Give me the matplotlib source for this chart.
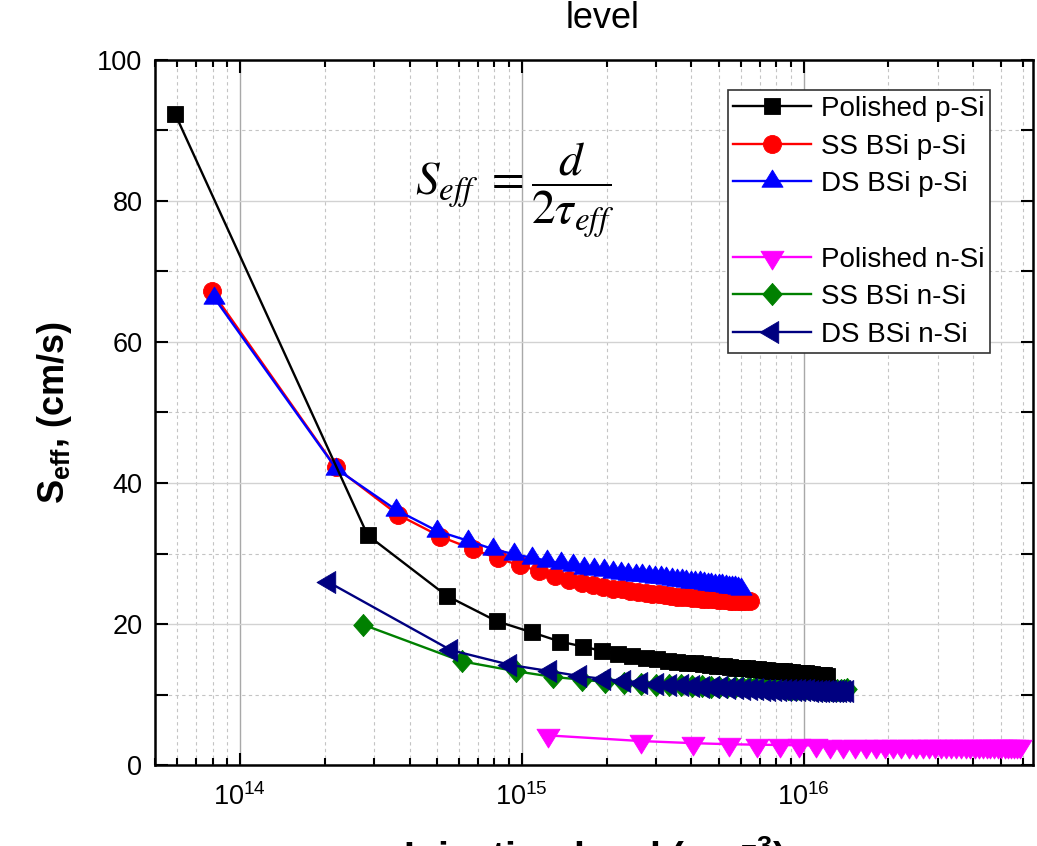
import numpy as np
import matplotlib
matplotlib.use('Agg')
import matplotlib.pyplot as plt
from matplotlib.path import Path
from matplotlib.lines import Line2D
from matplotlib.ticker import FixedLocator, FuncFormatter, MultipleLocator, LogLocator, NullFormatter

plt.rcParams['font.family'] = ['Liberation Sans', 'DejaVu Sans']

# ---------------- data ----------------
polished_p_x = [5.9e13, 2.84e14, 5.42e14, 8.15e14, 1.09e15, 1.37e15, 1.65e15, 1.92e15, 2.20e15, 2.47e15,
                2.75e15, 3.02e15, 3.30e15, 3.57e15, 3.85e15, 4.12e15, 4.40e15, 4.67e15, 4.95e15, 5.22e15,
                5.50e15, 5.77e15, 6.05e15, 6.32e15, 6.60e15, 6.87e15, 7.15e15, 7.42e15, 7.70e15, 7.97e15,
                8.25e15, 8.52e15, 8.80e15, 9.07e15, 9.35e15, 9.62e15, 9.90e15, 1.017e16, 1.045e16, 1.072e16,
                1.100e16, 1.127e16, 1.155e16, 1.182e16, 1.210e16]
polished_p_y = [92.3, 32.6, 24.0, 20.4, 18.8, 17.5, 16.8, 16.2, 15.8, 15.5,
                15.2, 15.0, 14.8, 14.6, 14.5, 14.4, 14.3, 14.2, 14.1, 14.0,
                13.9, 13.8, 13.8, 13.7, 13.6, 13.6, 13.5, 13.5, 13.4, 13.4,
                13.3, 13.3, 13.2, 13.2, 13.1, 13.1, 13.0, 13.0, 12.9, 12.9,
                12.8, 12.8, 12.7, 12.7, 12.6]

ss_p_x = [7.95e13, 2.19e14, 3.64e14, 5.15e14, 6.71e14, 8.24e14, 9.90e14, 1.15e15, 1.31e15, 1.47e15,
          1.63e15, 1.79e15, 1.95e15, 2.11e15, 2.27e15, 2.43e15, 2.59e15, 2.75e15, 2.91e15, 3.07e15,
          3.23e15, 3.39e15, 3.55e15, 3.71e15, 3.87e15, 4.03e15, 4.19e15, 4.35e15, 4.51e15, 4.67e15,
          4.83e15, 4.99e15, 5.15e15, 5.31e15, 5.47e15, 5.63e15, 5.79e15, 5.95e15, 6.11e15, 6.27e15,
          6.43e15]
ss_p_y = [67.2, 42.2, 35.5, 32.4, 30.6, 29.3, 28.3, 27.5, 26.8, 26.2,
          25.8, 25.5, 25.2, 25.0, 24.9, 24.7, 24.6, 24.4, 24.3, 24.2,
          24.1, 24.0, 23.9, 23.8, 23.8, 23.7, 23.7, 23.6, 23.6, 23.5,
          23.5, 23.4, 23.4, 23.4, 23.3, 23.3, 23.3, 23.2, 23.2, 23.2,
          23.2]

ds_p_x = [8.1e13, 2.2e14, 3.58e14, 5.01e14, 6.46e14, 7.93e14, 9.40e14, 1.085e15, 1.23e15, 1.375e15,
          1.52e15, 1.665e15, 1.81e15, 1.955e15, 2.10e15, 2.245e15, 2.39e15, 2.535e15, 2.68e15, 2.825e15,
          2.97e15, 3.115e15, 3.26e15, 3.405e15, 3.55e15, 3.695e15, 3.84e15, 3.985e15, 4.13e15, 4.275e15,
          4.42e15, 4.565e15, 4.71e15, 4.855e15, 5.00e15, 5.145e15, 5.29e15, 5.435e15, 5.58e15, 5.725e15,
          5.87e15, 6.015e15]
ds_p_y = [66.3, 42.0, 36.2, 33.2, 31.8, 30.6, 29.9, 29.4, 29.0, 28.6,
          28.3, 28.0, 27.8, 27.6, 27.4, 27.3, 27.1, 27.0, 26.9, 26.8,
          26.7, 26.6, 26.5, 26.4, 26.3, 26.2, 26.1, 26.0, 26.0, 25.9,
          25.8, 25.7, 25.7, 25.6, 25.5, 25.5, 25.4, 25.3, 25.3, 25.2,
          25.1, 25.0]

polished_n_x = [1.24e15, 2.64e15, 4.04e15, 5.44e15, 6.84e15, 8.24e15, 9.64e15, 1.104e16, 1.244e16, 1.384e16,
                1.524e16, 1.664e16, 1.804e16, 1.944e16, 2.084e16, 2.224e16, 2.364e16, 2.504e16, 2.644e16, 2.784e16,
                2.924e16, 3.064e16, 3.204e16, 3.344e16, 3.484e16, 3.624e16, 3.764e16, 3.904e16, 4.044e16, 4.184e16,
                4.324e16, 4.464e16, 4.604e16, 4.744e16, 4.884e16, 5.024e16, 5.164e16, 5.304e16, 5.444e16, 5.584e16,
                5.724e16, 5.864e16]
polished_n_y = [4.2, 3.4, 3.1, 2.95, 2.88, 2.84, 2.80, 2.78, 2.76, 2.75,
                2.74, 2.73, 2.72, 2.72, 2.71, 2.71, 2.70, 2.70, 2.69, 2.69,
                2.68, 2.68, 2.68, 2.67, 2.67, 2.67, 2.66, 2.66, 2.66, 2.66,
                2.65, 2.65, 2.65, 2.65, 2.64, 2.64, 2.64, 2.64, 2.63, 2.63,
                2.63, 2.63]

ss_n_x = [2.74e14, 6.14e14, 9.54e14, 1.29e15, 1.63e15, 1.97e15, 2.31e15, 2.65e15, 2.99e15, 3.33e15,
          3.67e15, 4.01e15, 4.35e15, 4.69e15, 5.03e15, 5.37e15, 5.71e15, 6.05e15, 6.39e15, 6.73e15,
          7.07e15, 7.41e15, 7.75e15, 8.09e15, 8.43e15, 8.77e15, 9.11e15, 9.45e15, 9.79e15, 1.013e16,
          1.047e16, 1.081e16, 1.115e16, 1.149e16, 1.183e16, 1.217e16, 1.251e16, 1.285e16, 1.319e16, 1.353e16,
          1.387e16, 1.421e16]
ss_n_y = [19.9, 14.7, 13.3, 12.5, 12.1, 11.8, 11.6, 11.5, 11.4, 11.3,
          11.3, 11.2, 11.2, 11.1, 11.1, 11.1, 11.0, 11.0, 11.0, 11.0,
          10.9, 10.9, 10.9, 10.9, 10.9, 10.8, 10.8, 10.8, 10.8, 10.8,
          10.8, 10.8, 10.7, 10.7, 10.7, 10.7, 10.7, 10.7, 10.7, 10.7,
          10.7, 10.8]

ds_n_x = [2.07e14, 5.6e14, 9.1e14, 1.26e15, 1.61e15, 1.96e15, 2.31e15, 2.66e15, 3.01e15, 3.36e15,
          3.71e15, 4.06e15, 4.41e15, 4.76e15, 5.11e15, 5.46e15, 5.81e15, 6.16e15, 6.51e15, 6.86e15,
          7.21e15, 7.56e15, 7.91e15, 8.26e15, 8.61e15, 8.96e15, 9.31e15, 9.66e15, 1.001e16, 1.036e16,
          1.071e16, 1.106e16, 1.141e16, 1.176e16, 1.211e16, 1.246e16, 1.281e16, 1.316e16, 1.351e16, 1.386e16,
          1.421e16]
ds_n_y = [25.9, 16.3, 14.2, 13.3, 12.6, 12.2, 11.9, 11.7, 11.5, 11.4,
          11.3, 11.2, 11.1, 11.0, 11.0, 10.9, 10.9, 10.8, 10.8, 10.8,
          10.7, 10.7, 10.7, 10.7, 10.6, 10.6, 10.6, 10.6, 10.6, 10.6,
          10.5, 10.5, 10.5, 10.5, 10.5, 10.5, 10.5, 10.5, 10.5, 10.5,
          10.5]

labels = ['Polished p-Si', 'SS BSi p-Si', 'DS BSi p-Si', 'Polished n-Si', 'SS BSi n-Si', 'DS BSi n-Si']
xticks = [1e14, 1e15, 1e16]
yticks = [0, 20, 40, 60, 80, 100]

# ---------------- markers (centroid centred, like Origin) ----------------
C = [Path.MOVETO, Path.LINETO, Path.LINETO, Path.CLOSEPOLY]
tri_up = Path([(0, 0.5), (-0.46, -0.25), (0.46, -0.25), (0, 0.5)], C)
tri_down = Path([(0, -0.5), (-0.46, 0.25), (0.46, 0.25), (0, -0.5)], C)
tri_left = Path([(-0.5, 0), (0.25, 0.44), (0.25, -0.44), (-0.5, 0)], C)
diamond = Path([(0, 0.5), (0.44, 0), (0, -0.5), (-0.44, 0), (0, 0.5)],
               [Path.MOVETO, Path.LINETO, Path.LINETO, Path.LINETO, Path.CLOSEPOLY])

fig = plt.figure(figsize=(10.37, 8.46), dpi=100)
ax = fig.add_axes([155 / 1037, 81 / 846, 877.7 / 1037, 705 / 846])
ax.set_xscale('log')
ax.set_xlim(5e13, 6.5e16)
ax.set_ylim(0, 100)

series = [
    (ss_p_x, ss_p_y, '#ff0000', 'o', 13, labels[1], 3),
    (ds_p_x, ds_p_y, '#0000ff', tri_up, 16.5, labels[2], 4),
    (polished_p_x, polished_p_y, '#000000', 's', 11.5, labels[0], 5),
    (polished_n_x, polished_n_y, '#ff00ff', tri_down, 18, labels[3], 3),
    (ss_n_x, ss_n_y, '#008000', diamond, 16, labels[4], 4),
    (ds_n_x, ds_n_y, '#000080', tri_left, 18, labels[5], 5),
]
handles = {}
for x, y, col, mk, ms, lab, z in series:
    h, = ax.plot(x, y, color=col, lw=1.7, marker=mk, ms=ms, mfc=col, mec=col, mew=0.6,
                 label=lab, zorder=z, clip_on=False)
    handles[lab] = h

# ticks and grids
ax.set_axisbelow(True)
ax.xaxis.set_major_locator(FixedLocator(xticks))
ax.xaxis.set_minor_locator(LogLocator(base=10, subs=np.arange(2, 10), numticks=20))
ax.xaxis.set_minor_formatter(NullFormatter())
ax.xaxis.set_major_formatter(FuncFormatter(lambda v, p: r'$\mathregular{10^{%d}}$' % round(np.log10(v))))
ax.yaxis.set_major_locator(FixedLocator(yticks))
ax.yaxis.set_minor_locator(MultipleLocator(10))

ax.xaxis.grid(True, which='major', color='#a8a8a8', lw=1.0, ls='-')
ax.xaxis.grid(True, which='minor', color='#c4c4c4', lw=0.8, ls=(0, (3, 3)))
ax.yaxis.grid(True, which='major', color='#d2d2d2', lw=1.0, ls='-')
ax.yaxis.grid(True, which='minor', color='#c4c4c4', lw=0.8, ls=(0, (3, 3)))

ax.tick_params(which='both', direction='in', top=True, right=True, width=1.5, labelsize=19.5)
ax.tick_params(which='major', length=9)
ax.tick_params(axis='x', which='minor', length=5)
ax.tick_params(axis='y', which='minor', length=9)
ax.tick_params(axis='y', pad=9)
ax.tick_params(axis='x', pad=13)
for s in ax.spines.values():
    s.set_linewidth(1.8)

ax.set_ylabel(r'S$_{\mathregular{eff}}$, (cm/s)', fontsize=26, fontweight='bold')
ax.yaxis.set_label_coords(-0.092, 0.5)
ax.set_xlabel(r'Injection level (cm$^{\mathregular{-3}}$)', fontsize=28, fontweight='bold')
ax.xaxis.set_label_coords(0.5, (765 - 834) / 705)

fig.text(603 / 1037, 1 - 28 / 846, 'level', ha='center', va='baseline', fontsize=26)

fig.text(415 / 1037, 1 - 195 / 846, r'$S_{eff}\ = \dfrac{d}{2\tau_{eff}}$', ha='left', va='baseline',
         fontsize=34, math_fontfamily='stix')

blank = Line2D([], [], ls='none', marker=None)
leg_h = [handles[labels[0]], handles[labels[1]], handles[labels[2]], blank,
         handles[labels[3]], handles[labels[4]], handles[labels[5]]]
leg_l = [labels[0], labels[1], labels[2], ' ', labels[3], labels[4], labels[5]]
leg = ax.legend(leg_h, leg_l, loc='upper right', bbox_to_anchor=(0.951, 0.957), borderaxespad=0,
                fontsize=20, frameon=True, fancybox=False, edgecolor='#333333', framealpha=1,
                handlelength=2.8, handletextpad=0.35, labelspacing=0.42, borderpad=0.2)
leg.get_frame().set_linewidth(1.2)
leg.set_zorder(10)

fig.savefig('out.png', dpi=100)
